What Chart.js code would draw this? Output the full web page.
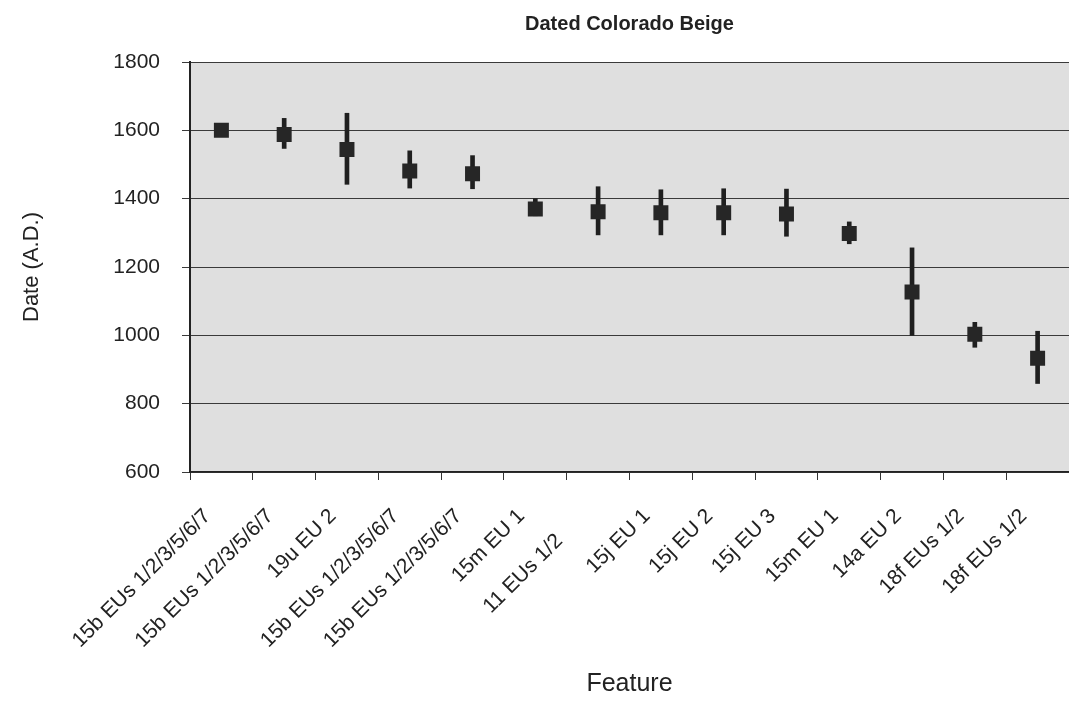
<!DOCTYPE html>
<html>
<head>
<meta charset="utf-8">
<title>Dated Colorado Beige</title>
<script src="https://cdn.jsdelivr.net/npm/chart.js@4.4.1/dist/chart.umd.min.js"></script>
<style>
    body { margin: 0; background: #ffffff; }
    canvas { display: block; }
</style>
</head>
<body>
<canvas id="chart" width="1069" height="702"></canvas>
<script>
// categories along the x axis (the second "15m EU 1" etc. are separate samples)
const features = [
    "15b EUs 1/2/3/5/6/7",
    "15b EUs 1/2/3/5/6/7",
    "19u EU 2",
    "15b EUs 1/2/3/5/6/7",
    "15b EUs 1/2/3/5/6/7",
    "15m EU 1",
    "11 EUs 1/2      ",
    "15j EU 1",
    "15j EU 2",
    "15j EU 3",
    "15m EU 1",
    "14a EU 2",
    "18f EUs 1/2",
    "18f EUs 1/2",
];

// mean date and the low / high end of each range (A.D.)
const dates = [1600, 1588, 1544, 1481, 1473, 1370, 1362, 1359, 1359, 1355, 1298, 1127, 1003, 933];
const lows  = [1592, 1547, 1442, 1431, 1429, 1350, 1294, 1294, 1294, 1290, 1268, 1000, 965, 859];
const highs = [1608, 1635, 1650, 1540, 1526, 1400, 1435, 1426, 1429, 1428, 1332, 1256, 1038, 1012];

const yTicks = [600, 800, 1000, 1200, 1400, 1600, 1800];

const ranges = lows.map((low, i) => [low, highs[i]]);

const fontFamily = "'Liberation Sans', Arial, sans-serif";

const plotBackground = {
    id: "plotBackground",
    beforeDraw(chart) {
        const { ctx, chartArea } = chart;
        ctx.save();
        ctx.fillStyle = "#dfdfdf";
        ctx.fillRect(chartArea.left, chartArea.top, chartArea.right - chartArea.left, chartArea.bottom - chartArea.top);
        ctx.restore();
    },
};

new Chart(document.getElementById("chart"), {
    data: {
        labels: features,
        datasets: [
            {
                type: "line",
                label: "Date",
                data: dates,
                showLine: false,
                pointStyle: "rect",
                pointRadius: 10.6,
                pointBorderWidth: 0,
                pointBackgroundColor: "#262626",
                pointBorderColor: "#262626",
                order: 1,
            },
            {
                type: "bar",
                label: "Range",
                data: ranges,
                barThickness: 4,
                backgroundColor: "#1f1f1f",
                borderWidth: 0,
                order: 2,
            },
        ],
    },
    options: {
        responsive: false,
        animation: false,
        layout: { padding: 0, autoPadding: false },
        plugins: {
            legend: { display: false },
            tooltip: { enabled: false },
            title: {
                display: true,
                text: "Dated Colorado Beige",
                fullSize: false,
                color: "#222",
                font: { family: fontFamily, size: 20, weight: "bold" },
                padding: { top: 12, bottom: 26 },
            },
        },
        scales: {
            x: {
                type: "category",
                offset: true,
                grid: {
                    offset: true,
                    drawOnChartArea: false,
                    drawTicks: true,
                    tickLength: 8,
                    color: "#333",
                },
                border: { color: "#222", width: 1.5 },
                ticks: {
                    autoSkip: false,
                    minRotation: 45,
                    maxRotation: 45,
                    padding: 24,
                    labelOffset: -14,
                    color: "#222",
                    font: { family: fontFamily, size: 21 },
                },
                title: {
                    display: true,
                    text: "Feature",
                    color: "#222",
                    font: { family: fontFamily, size: 25 },
                    padding: { top: 0, bottom: 3 },
                },
                afterFit(scale) {
                    scale.height = 230;
                    scale.paddingLeft = 0;
                    scale.paddingRight = 0;
                },
            },
            y: {
                min: 600,
                max: 1800,
                afterBuildTicks(scale) { scale.ticks = yTicks.map((v) => ({ value: v })); },
                grid: { color: "#3a3a3a", lineWidth: 1, tickLength: 8 },
                border: { color: "#222", width: 2 },
                ticks: {
                    padding: 22,
                    color: "#222",
                    font: { family: fontFamily, size: 21 },
                    callback: (value) => String(value),
                },
                title: {
                    display: true,
                    text: "Date (A.D.)",
                    color: "#222",
                    font: { family: fontFamily, size: 22 },
                    padding: { top: 19, bottom: 0 },
                },
                afterFit(scale) {
                    scale.width = 190;
                    scale.paddingTop = 0;
                    scale.paddingBottom = 0;
                },
            },
        },
    },
    plugins: [plotBackground],
});
</script>
</body>
</html>
